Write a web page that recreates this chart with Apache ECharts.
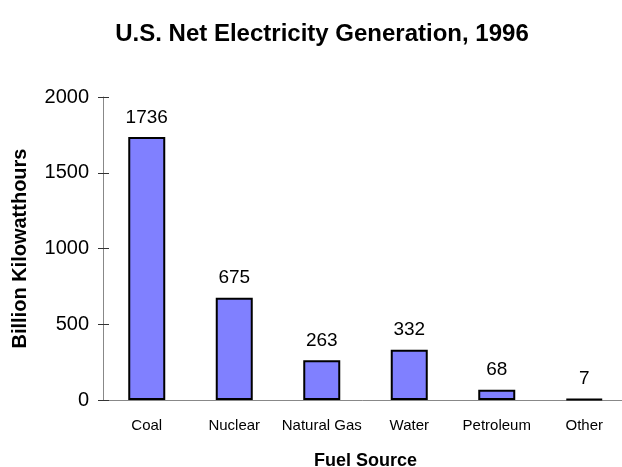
<!DOCTYPE html>
<html>
<head>
<meta charset="utf-8">
<script src="https://cdn.jsdelivr.net/npm/echarts@6/dist/echarts.min.js"></script>
<style>
  html, body { margin: 0; padding: 0; background: #fff; }
  #chart { width: 622px; height: 467px; }
</style>
</head>
<body>
<div id="chart"></div>
<script>
const categories = ['Coal', 'Nuclear', 'Natural Gas', 'Water', 'Petroleum', 'Other']
const generation = [1736, 675, 263, 332, 68, 7]
const yMin = 0
const yMax = 2000
const yStep = 500

const chart = echarts.init(document.getElementById('chart'))

chart.setOption({
  backgroundColor: '#fff',
  animation: false,
  textStyle: { fontFamily: 'Liberation Sans, Arial, sans-serif' },
  title: {
    text: 'U.S. Net Electricity Generation, 1996',
    left: 317,
    textAlign: 'center',
    top: 17,
    textStyle: { fontSize: 24, fontWeight: 'bold', color: '#000' }
  },
  grid: { left: 103, right: -6, top: 97, bottom: 67, outerBoundsMode: 'none' },
  xAxis: {
    type: 'category',
    data: categories,
    name: 'Fuel Source',
    nameLocation: 'middle',
    nameGap: 52,
    nameTextStyle: { fontSize: 18, fontWeight: 'bold', color: '#000' },
    axisLine: { lineStyle: { color: '#888', width: 1 } },
    axisTick: { show: false },
    axisLabel: { color: '#000', fontSize: 15, margin: 18, interval: 0 }
  },
  yAxis: [{
    type: 'value',
    min: yMin,
    max: yMax,
    interval: yStep,
    name: 'Billion Kilowatthours',
    nameLocation: 'middle',
    nameGap: 73,
    nameTextStyle: { fontSize: 20, fontWeight: 'bold', color: '#000' },
    axisLine: { show: true, lineStyle: { color: '#888', width: 1 } },
    axisTick: { show: true, inside: false, length: 5, lineStyle: { color: '#333' } },
    axisLabel: { color: '#000', fontSize: 20, margin: 14, formatter: v => String(v) },
    splitLine: { show: false }
  }, {
    // inner half of the crossing ticks
    type: 'value',
    position: 'left',
    min: yMin,
    max: yMax,
    interval: yStep,
    axisLine: { show: false },
    axisTick: { show: true, inside: true, length: 6, lineStyle: { color: '#333' } },
    axisLabel: { show: false },
    splitLine: { show: false }
  }],
  series: [{
    type: 'bar',
    data: generation,
    barWidth: 37,
    itemStyle: { color: '#8080ff', borderColor: '#000', borderWidth: 2 },
    label: {
      show: true,
      position: 'top',
      distance: 10,
      color: '#000',
      fontSize: 19
    }
  }]
})
</script>
</body>
</html>
